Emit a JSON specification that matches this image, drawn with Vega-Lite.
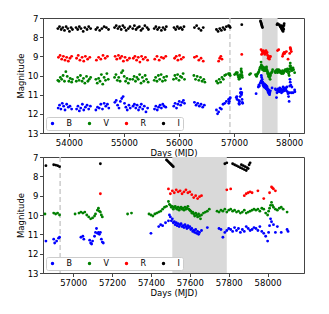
{
"$schema": "https://vega.github.io/schema/vega-lite/v6.json",
"padding": {"left": 15, "top": 13, "right": 0, "bottom": 0},
"config": {
 "font": "DejaVu Sans",
 "view": {"stroke": "#444444", "strokeWidth": 1},
 "axis": {"labelFont": "DejaVu Sans", "titleFont": "DejaVu Sans", "labelFontSize": 8.5, "titleFontSize": 8.5, "titleFontWeight": "normal", "labelColor": "#000000", "titleColor": "#000000", "grid": false, "tickColor": "#444444", "domainColor": "#444444", "tickSize": 3.5, "labelPadding": 1.5, "titlePadding": 2},
 "legend": {"labelFont": "DejaVu Sans"}
},
"datasets": {
 "d": [
{"t":53800,"m":7.55,"b":"I"},{"t":53830,"m":7.45,"b":"I"},{"t":53860,"m":7.6,"b":"I"},{"t":53890,"m":7.5,"b":"I"},{"t":53920,"m":7.65,"b":"I"},{"t":53950,"m":7.45,"b":"I"},{"t":53980,"m":7.55,"b":"I"},{"t":54010,"m":7.7,"b":"I"},{"t":54040,"m":7.5,"b":"I"},{"t":54065,"m":7.6,"b":"I"},
{"t":53810,"m":9.05,"b":"R"},{"t":53840,"m":8.95,"b":"R"},{"t":53870,"m":9.15,"b":"R"},{"t":53900,"m":9.0,"b":"R"},{"t":53930,"m":9.2,"b":"R"},{"t":53960,"m":9.05,"b":"R"},{"t":53990,"m":9.25,"b":"R"},{"t":54020,"m":9.1,"b":"R"},{"t":54050,"m":9.0,"b":"R"},
{"t":53800,"m":10.25,"b":"V"},{"t":53820,"m":10.3,"b":"V"},{"t":53845,"m":10.1,"b":"V"},{"t":53870,"m":10.2,"b":"V"},{"t":53895,"m":10.0,"b":"V"},{"t":53920,"m":10.3,"b":"V"},{"t":53945,"m":9.8,"b":"V"},{"t":53970,"m":10.05,"b":"V"},{"t":54000,"m":10.3,"b":"V"},{"t":54025,"m":10.15,"b":"V"},{"t":54050,"m":10.35,"b":"V"},{"t":54065,"m":10.2,"b":"V"},
{"t":53805,"m":11.7,"b":"B"},{"t":53830,"m":11.55,"b":"B"},{"t":53855,"m":11.75,"b":"B"},{"t":53880,"m":11.45,"b":"B"},{"t":53905,"m":11.6,"b":"B"},{"t":53930,"m":11.8,"b":"B"},{"t":53960,"m":11.5,"b":"B"},{"t":53990,"m":11.65,"b":"B"},{"t":54020,"m":11.6,"b":"B"},{"t":54050,"m":11.75,"b":"B"},
{"t":54130,"m":7.5,"b":"I"},{"t":54160,"m":7.6,"b":"I"},{"t":54190,"m":7.45,"b":"I"},{"t":54220,"m":7.55,"b":"I"},{"t":54260,"m":7.7,"b":"I"},{"t":54290,"m":7.5,"b":"I"},{"t":54330,"m":7.6,"b":"I"},{"t":54360,"m":7.45,"b":"I"},{"t":54395,"m":7.55,"b":"I"},
{"t":54140,"m":9.1,"b":"R"},{"t":54170,"m":8.95,"b":"R"},{"t":54200,"m":9.2,"b":"R"},{"t":54240,"m":9.05,"b":"R"},{"t":54270,"m":9.25,"b":"R"},{"t":54300,"m":9.0,"b":"R"},{"t":54340,"m":9.15,"b":"R"},{"t":54380,"m":9.05,"b":"R"},
{"t":54135,"m":10.3,"b":"V"},{"t":54160,"m":10.1,"b":"V"},{"t":54185,"m":10.25,"b":"V"},{"t":54210,"m":10.0,"b":"V"},{"t":54240,"m":10.3,"b":"V"},{"t":54265,"m":10.15,"b":"V"},{"t":54290,"m":10.4,"b":"V"},{"t":54320,"m":10.05,"b":"V"},{"t":54345,"m":10.3,"b":"V"},{"t":54370,"m":10.2,"b":"V"},{"t":54395,"m":10.1,"b":"V"},
{"t":54140,"m":11.75,"b":"B"},{"t":54165,"m":11.6,"b":"B"},{"t":54190,"m":11.85,"b":"B"},{"t":54215,"m":11.7,"b":"B"},{"t":54245,"m":11.5,"b":"B"},{"t":54270,"m":11.8,"b":"B"},{"t":54300,"m":11.65,"b":"B"},{"t":54330,"m":11.55,"b":"B"},{"t":54360,"m":11.75,"b":"B"},{"t":54390,"m":11.6,"b":"B"},
{"t":54490,"m":7.6,"b":"I"},{"t":54520,"m":7.5,"b":"I"},{"t":54560,"m":7.65,"b":"I"},{"t":54600,"m":7.55,"b":"I"},{"t":54640,"m":7.45,"b":"I"},{"t":54680,"m":7.5,"b":"I"},{"t":54720,"m":7.6,"b":"I"},
{"t":54500,"m":9.2,"b":"R"},{"t":54540,"m":9.05,"b":"R"},{"t":54580,"m":9.15,"b":"R"},{"t":54620,"m":8.95,"b":"R"},{"t":54660,"m":9.1,"b":"R"},{"t":54700,"m":9.0,"b":"R"},
{"t":54490,"m":10.2,"b":"V"},{"t":54515,"m":10.4,"b":"V"},{"t":54540,"m":10.15,"b":"V"},{"t":54565,"m":10.3,"b":"V"},{"t":54590,"m":9.95,"b":"V"},{"t":54615,"m":10.45,"b":"V"},{"t":54640,"m":10.1,"b":"V"},{"t":54665,"m":10.25,"b":"V"},{"t":54690,"m":9.9,"b":"V"},{"t":54715,"m":10.2,"b":"V"},
{"t":54490,"m":11.8,"b":"B"},{"t":54520,"m":11.65,"b":"B"},{"t":54550,"m":11.7,"b":"B"},{"t":54580,"m":11.5,"b":"B"},{"t":54610,"m":11.75,"b":"B"},{"t":54640,"m":11.45,"b":"B"},{"t":54670,"m":11.6,"b":"B"},{"t":54700,"m":11.5,"b":"B"},{"t":54725,"m":11.7,"b":"B"},
{"t":54830,"m":7.5,"b":"I"},{"t":54860,"m":7.4,"b":"I"},{"t":54890,"m":7.55,"b":"I"},{"t":54920,"m":7.45,"b":"I"},{"t":54950,"m":7.6,"b":"I"},{"t":54980,"m":7.4,"b":"I"},{"t":55010,"m":7.5,"b":"I"},{"t":55040,"m":7.65,"b":"I"},{"t":55080,"m":7.55,"b":"I"},{"t":55110,"m":7.45,"b":"I"},
{"t":54840,"m":9.0,"b":"R"},{"t":54870,"m":9.15,"b":"R"},{"t":54900,"m":8.95,"b":"R"},{"t":54930,"m":9.1,"b":"R"},{"t":54960,"m":9.0,"b":"R"},{"t":54990,"m":9.25,"b":"R"},{"t":55020,"m":9.05,"b":"R"},{"t":55060,"m":9.2,"b":"R"},{"t":55100,"m":9.1,"b":"R"},
{"t":54830,"m":10.1,"b":"V"},{"t":54855,"m":9.95,"b":"V"},{"t":54880,"m":10.25,"b":"V"},{"t":54905,"m":10.1,"b":"V"},{"t":54930,"m":10.3,"b":"V"},{"t":54955,"m":9.85,"b":"V"},{"t":54980,"m":9.75,"b":"V"},{"t":55005,"m":10.05,"b":"V"},{"t":55030,"m":10.3,"b":"V"},{"t":55055,"m":10.15,"b":"V"},{"t":55080,"m":10.4,"b":"V"},{"t":55110,"m":10.2,"b":"V"},
{"t":54835,"m":11.4,"b":"B"},{"t":54860,"m":11.3,"b":"B"},{"t":54885,"m":11.55,"b":"B"},{"t":54910,"m":11.7,"b":"B"},{"t":54935,"m":11.35,"b":"B"},{"t":54960,"m":11.2,"b":"B"},{"t":54985,"m":11.1,"b":"B"},{"t":55010,"m":11.45,"b":"B"},{"t":55035,"m":11.65,"b":"B"},{"t":55060,"m":11.8,"b":"B"},{"t":55090,"m":11.55,"b":"B"},{"t":55115,"m":11.7,"b":"B"},
{"t":55160,"m":7.55,"b":"I"},{"t":55190,"m":7.4,"b":"I"},{"t":55220,"m":7.6,"b":"I"},{"t":55250,"m":7.5,"b":"I"},{"t":55280,"m":7.45,"b":"I"},{"t":55310,"m":7.65,"b":"I"},{"t":55340,"m":7.55,"b":"I"},{"t":55380,"m":7.4,"b":"I"},{"t":55420,"m":7.5,"b":"I"},{"t":55445,"m":7.6,"b":"I"},
{"t":55170,"m":9.1,"b":"R"},{"t":55200,"m":9.0,"b":"R"},{"t":55230,"m":9.2,"b":"R"},{"t":55260,"m":9.05,"b":"R"},{"t":55290,"m":9.3,"b":"R"},{"t":55320,"m":9.0,"b":"R"},{"t":55350,"m":9.15,"b":"R"},{"t":55390,"m":9.05,"b":"R"},{"t":55430,"m":9.2,"b":"R"},
{"t":55160,"m":10.2,"b":"V"},{"t":55185,"m":10.05,"b":"V"},{"t":55210,"m":10.3,"b":"V"},{"t":55235,"m":10.1,"b":"V"},{"t":55260,"m":10.2,"b":"V"},{"t":55285,"m":9.95,"b":"V"},{"t":55310,"m":10.4,"b":"V"},{"t":55335,"m":10.1,"b":"V"},{"t":55360,"m":10.3,"b":"V"},{"t":55385,"m":10.0,"b":"V"},{"t":55410,"m":10.2,"b":"V"},{"t":55440,"m":10.35,"b":"V"},
{"t":55165,"m":11.6,"b":"B"},{"t":55190,"m":11.5,"b":"B"},{"t":55215,"m":11.7,"b":"B"},{"t":55240,"m":11.55,"b":"B"},{"t":55265,"m":11.8,"b":"B"},{"t":55290,"m":11.65,"b":"B"},{"t":55315,"m":11.5,"b":"B"},{"t":55340,"m":11.75,"b":"B"},{"t":55370,"m":11.6,"b":"B"},{"t":55400,"m":11.9,"b":"B"},{"t":55430,"m":11.7,"b":"B"},
{"t":55550,"m":7.55,"b":"I"},{"t":55580,"m":7.45,"b":"I"},{"t":55610,"m":7.6,"b":"I"},{"t":55640,"m":7.5,"b":"I"},{"t":55680,"m":7.65,"b":"I"},{"t":55710,"m":7.5,"b":"I"},{"t":55745,"m":7.6,"b":"I"},{"t":55770,"m":7.45,"b":"I"},
{"t":55560,"m":9.15,"b":"R"},{"t":55600,"m":9.0,"b":"R"},{"t":55640,"m":9.2,"b":"R"},{"t":55680,"m":9.05,"b":"R"},{"t":55720,"m":9.1,"b":"R"},{"t":55760,"m":9.0,"b":"R"},
{"t":55550,"m":10.25,"b":"V"},{"t":55575,"m":10.1,"b":"V"},{"t":55600,"m":10.3,"b":"V"},{"t":55625,"m":10.0,"b":"V"},{"t":55650,"m":10.2,"b":"V"},{"t":55675,"m":9.95,"b":"V"},{"t":55700,"m":10.3,"b":"V"},{"t":55725,"m":10.1,"b":"V"},{"t":55750,"m":10.25,"b":"V"},{"t":55775,"m":10.05,"b":"V"},
{"t":55555,"m":11.75,"b":"B"},{"t":55580,"m":11.6,"b":"B"},{"t":55605,"m":11.8,"b":"B"},{"t":55630,"m":11.65,"b":"B"},{"t":55655,"m":11.55,"b":"B"},{"t":55680,"m":11.7,"b":"B"},{"t":55705,"m":11.5,"b":"B"},{"t":55730,"m":11.6,"b":"B"},{"t":55760,"m":11.65,"b":"B"},
{"t":55910,"m":7.5,"b":"I"},{"t":55940,"m":7.6,"b":"I"},{"t":55970,"m":7.45,"b":"I"},{"t":56000,"m":7.55,"b":"I"},{"t":56030,"m":7.5,"b":"I"},{"t":56060,"m":7.6,"b":"I"},{"t":56090,"m":7.45,"b":"I"},
{"t":55920,"m":9.1,"b":"R"},{"t":55950,"m":9.0,"b":"R"},{"t":55980,"m":9.2,"b":"R"},{"t":56010,"m":8.95,"b":"R"},{"t":56040,"m":9.15,"b":"R"},{"t":56080,"m":9.05,"b":"R"},
{"t":55900,"m":10.2,"b":"V"},{"t":55925,"m":10.0,"b":"V"},{"t":55950,"m":10.15,"b":"V"},{"t":55975,"m":9.95,"b":"V"},{"t":56000,"m":10.25,"b":"V"},{"t":56025,"m":10.05,"b":"V"},{"t":56050,"m":10.1,"b":"V"},{"t":56075,"m":9.9,"b":"V"},{"t":56100,"m":10.2,"b":"V"},
{"t":55905,"m":11.6,"b":"B"},{"t":55930,"m":11.45,"b":"B"},{"t":55955,"m":11.7,"b":"B"},{"t":55980,"m":11.5,"b":"B"},{"t":56005,"m":11.35,"b":"B"},{"t":56030,"m":11.55,"b":"B"},{"t":56055,"m":11.4,"b":"B"},{"t":56080,"m":11.3,"b":"B"},{"t":56100,"m":11.45,"b":"B"},
{"t":56280,"m":7.5,"b":"I"},{"t":56320,"m":7.4,"b":"I"},{"t":56360,"m":7.55,"b":"I"},{"t":56400,"m":7.65,"b":"I"},{"t":56440,"m":7.5,"b":"I"},
{"t":56280,"m":9.05,"b":"R"},{"t":56320,"m":9.0,"b":"R"},{"t":56360,"m":9.2,"b":"R"},{"t":56400,"m":9.1,"b":"R"},{"t":56440,"m":9.25,"b":"R"},
{"t":56270,"m":10.0,"b":"V"},{"t":56300,"m":10.2,"b":"V"},{"t":56330,"m":10.05,"b":"V"},{"t":56360,"m":10.25,"b":"V"},{"t":56390,"m":10.1,"b":"V"},{"t":56420,"m":10.3,"b":"V"},{"t":56450,"m":10.2,"b":"V"},{"t":56470,"m":10.35,"b":"V"},
{"t":56280,"m":11.4,"b":"B"},{"t":56310,"m":11.55,"b":"B"},{"t":56340,"m":11.45,"b":"B"},{"t":56370,"m":11.6,"b":"B"},{"t":56400,"m":11.5,"b":"B"},{"t":56430,"m":11.65,"b":"B"},{"t":56460,"m":11.55,"b":"B"},
{"t":56680,"m":7.6,"b":"I"},{"t":56710,"m":7.7,"b":"I"},{"t":56740,"m":7.55,"b":"I"},{"t":56770,"m":7.65,"b":"I"},{"t":56800,"m":7.5,"b":"I"},{"t":56830,"m":7.6,"b":"I"},{"t":56860,"m":7.45,"b":"I"},{"t":56900,"m":7.4,"b":"I"},{"t":56910,"m":7.42,"b":"I"},{"t":56920,"m":7.45,"b":"I"},{"t":56930,"m":7.5,"b":"I"},
{"t":56720,"m":9.25,"b":"R"},{"t":56740,"m":9.1,"b":"R"},{"t":56760,"m":9.0,"b":"R"},{"t":56780,"m":9.15,"b":"R"},
{"t":56680,"m":10.3,"b":"V"},{"t":56705,"m":10.4,"b":"V"},{"t":56730,"m":10.2,"b":"V"},{"t":56755,"m":10.35,"b":"V"},{"t":56780,"m":10.1,"b":"V"},{"t":56805,"m":10.2,"b":"V"},{"t":56830,"m":10.0,"b":"V"},{"t":56855,"m":9.95,"b":"V"},{"t":56900,"m":9.9,"b":"V"},{"t":56910,"m":9.95,"b":"V"},{"t":56920,"m":9.9,"b":"V"},{"t":56930,"m":10.0,"b":"V"},
{"t":56680,"m":11.8,"b":"B"},{"t":56700,"m":12.0,"b":"B"},{"t":56720,"m":11.9,"b":"B"},{"t":56745,"m":11.7,"b":"B"},{"t":56770,"m":11.75,"b":"B"},{"t":56800,"m":11.5,"b":"B"},{"t":56830,"m":11.45,"b":"B"},{"t":56860,"m":11.35,"b":"B"},{"t":56900,"m":11.25,"b":"B"},{"t":56905,"m":11.45,"b":"B"},{"t":56915,"m":11.35,"b":"B"},{"t":56925,"m":11.2,"b":"B"},{"t":56930,"m":11.15,"b":"B"},
{"t":57010,"m":9.95,"b":"V"},{"t":57030,"m":9.9,"b":"V"},{"t":57040,"m":9.85,"b":"V"},{"t":57050,"m":9.9,"b":"V"},{"t":57060,"m":9.85,"b":"V"},{"t":57070,"m":10.0,"b":"V"},{"t":57080,"m":10.1,"b":"V"},{"t":57090,"m":10.2,"b":"V"},{"t":57100,"m":10.15,"b":"V"},{"t":57110,"m":10.05,"b":"V"},{"t":57115,"m":9.95,"b":"V"},{"t":57125,"m":9.75,"b":"V"},{"t":57130,"m":9.65,"b":"V"},{"t":57135,"m":9.8,"b":"V"},{"t":57140,"m":9.85,"b":"V"},{"t":57145,"m":10.0,"b":"V"},{"t":57150,"m":10.1,"b":"V"},
{"t":57040,"m":11.15,"b":"B"},{"t":57050,"m":11.1,"b":"B"},{"t":57055,"m":11.25,"b":"B"},{"t":57085,"m":11.3,"b":"B"},{"t":57090,"m":11.45,"b":"B"},{"t":57095,"m":11.5,"b":"B"},{"t":57100,"m":11.35,"b":"B"},{"t":57110,"m":11.1,"b":"B"},{"t":57115,"m":10.9,"b":"B"},{"t":57120,"m":10.7,"b":"B"},{"t":57125,"m":10.95,"b":"B"},{"t":57130,"m":10.9,"b":"B"},{"t":57135,"m":11.0,"b":"B"},{"t":57140,"m":10.9,"b":"B"},{"t":57145,"m":11.25,"b":"B"},{"t":57150,"m":11.4,"b":"B"},{"t":57155,"m":11.45,"b":"B"},
{"t":57140,"m":7.35,"b":"I"},{"t":57140,"m":8.9,"b":"R"},
{"t":57280,"m":9.95,"b":"V"},{"t":57300,"m":9.9,"b":"V"},
{"t":57390,"m":9.95,"b":"V"},{"t":57400,"m":10.0,"b":"V"},{"t":57410,"m":10.05,"b":"V"},{"t":57420,"m":9.95,"b":"V"},{"t":57430,"m":9.9,"b":"V"},{"t":57440,"m":9.85,"b":"V"},{"t":57450,"m":9.8,"b":"V"},{"t":57460,"m":9.7,"b":"V"},{"t":57470,"m":9.6,"b":"V"},{"t":57480,"m":9.55,"b":"V"},{"t":57490,"m":9.3,"b":"V"},{"t":57495,"m":9.45,"b":"V"},{"t":57500,"m":9.5,"b":"V"},{"t":57505,"m":9.6,"b":"V"},{"t":57510,"m":9.55,"b":"V"},{"t":57515,"m":9.7,"b":"V"},{"t":57520,"m":9.6,"b":"V"},{"t":57525,"m":9.55,"b":"V"},{"t":57530,"m":9.65,"b":"V"},{"t":57535,"m":9.7,"b":"V"},{"t":57540,"m":9.6,"b":"V"},{"t":57545,"m":9.75,"b":"V"},{"t":57550,"m":9.65,"b":"V"},{"t":57555,"m":9.6,"b":"V"},{"t":57560,"m":9.7,"b":"V"},{"t":57565,"m":9.65,"b":"V"},{"t":57570,"m":9.75,"b":"V"},{"t":57575,"m":9.6,"b":"V"},{"t":57580,"m":9.7,"b":"V"},{"t":57585,"m":9.65,"b":"V"},{"t":57590,"m":9.55,"b":"V"},{"t":57595,"m":9.7,"b":"V"},{"t":57600,"m":9.75,"b":"V"},{"t":57605,"m":9.8,"b":"V"},{"t":57610,"m":9.9,"b":"V"},{"t":57615,"m":9.85,"b":"V"},{"t":57620,"m":9.95,"b":"V"},{"t":57625,"m":10.05,"b":"V"},{"t":57630,"m":9.9,"b":"V"},{"t":57635,"m":10.0,"b":"V"},{"t":57640,"m":10.1,"b":"V"},{"t":57645,"m":9.95,"b":"V"},{"t":57650,"m":10.05,"b":"V"},{"t":57655,"m":10.2,"b":"V"},{"t":57660,"m":10.0,"b":"V"},{"t":57670,"m":9.9,"b":"V"},{"t":57680,"m":9.85,"b":"V"},{"t":57690,"m":9.8,"b":"V"},{"t":57700,"m":9.7,"b":"V"},
{"t":57400,"m":10.95,"b":"B"},{"t":57440,"m":10.6,"b":"B"},{"t":57450,"m":10.5,"b":"B"},{"t":57460,"m":10.55,"b":"B"},{"t":57475,"m":10.4,"b":"B"},{"t":57490,"m":10.3,"b":"B"},{"t":57495,"m":10.0,"b":"B"},{"t":57500,"m":10.1,"b":"B"},{"t":57505,"m":10.3,"b":"B"},{"t":57510,"m":10.2,"b":"B"},{"t":57515,"m":10.4,"b":"B"},{"t":57520,"m":10.35,"b":"B"},{"t":57525,"m":10.5,"b":"B"},{"t":57530,"m":10.4,"b":"B"},{"t":57535,"m":10.55,"b":"B"},{"t":57540,"m":10.45,"b":"B"},{"t":57545,"m":10.6,"b":"B"},{"t":57550,"m":10.5,"b":"B"},{"t":57555,"m":10.45,"b":"B"},{"t":57560,"m":10.6,"b":"B"},{"t":57565,"m":10.55,"b":"B"},{"t":57570,"m":10.65,"b":"B"},{"t":57575,"m":10.5,"b":"B"},{"t":57580,"m":10.6,"b":"B"},{"t":57585,"m":10.7,"b":"B"},{"t":57590,"m":10.55,"b":"B"},{"t":57595,"m":10.65,"b":"B"},{"t":57600,"m":10.6,"b":"B"},{"t":57605,"m":10.75,"b":"B"},{"t":57610,"m":10.7,"b":"B"},{"t":57615,"m":10.85,"b":"B"},{"t":57620,"m":10.8,"b":"B"},{"t":57625,"m":10.9,"b":"B"},{"t":57630,"m":10.75,"b":"B"},{"t":57635,"m":10.95,"b":"B"},{"t":57640,"m":10.85,"b":"B"},{"t":57645,"m":11.0,"b":"B"},{"t":57650,"m":10.9,"b":"B"},{"t":57660,"m":10.8,"b":"B"},{"t":57690,"m":10.65,"b":"B"},
{"t":57490,"m":8.65,"b":"R"},{"t":57500,"m":8.9,"b":"R"},{"t":57510,"m":8.75,"b":"R"},{"t":57520,"m":8.85,"b":"R"},{"t":57530,"m":8.7,"b":"R"},{"t":57540,"m":8.8,"b":"R"},{"t":57550,"m":8.75,"b":"R"},{"t":57560,"m":8.9,"b":"R"},{"t":57570,"m":8.8,"b":"R"},{"t":57580,"m":8.7,"b":"R"},{"t":57590,"m":8.85,"b":"R"},{"t":57600,"m":8.8,"b":"R"},{"t":57610,"m":8.95,"b":"R"},{"t":57620,"m":9.1,"b":"R"},{"t":57630,"m":9.0,"b":"R"},{"t":57640,"m":9.15,"b":"R"},{"t":57650,"m":9.05,"b":"R"},{"t":57660,"m":9.0,"b":"R"},
{"t":57480,"m":7.15,"b":"I"},{"t":57485,"m":7.2,"b":"I"},{"t":57490,"m":7.25,"b":"I"},{"t":57495,"m":7.3,"b":"I"},{"t":57500,"m":7.35,"b":"I"},{"t":57505,"m":7.4,"b":"I"},{"t":57510,"m":7.45,"b":"I"},{"t":57515,"m":7.5,"b":"I"},
{"t":57740,"m":9.8,"b":"V"},{"t":57750,"m":9.85,"b":"V"},{"t":57760,"m":9.75,"b":"V"},{"t":57770,"m":9.8,"b":"V"},{"t":57780,"m":9.7,"b":"V"},{"t":57790,"m":9.85,"b":"V"},{"t":57800,"m":9.75,"b":"V"},{"t":57810,"m":9.7,"b":"V"},{"t":57820,"m":9.8,"b":"V"},{"t":57830,"m":9.75,"b":"V"},{"t":57840,"m":9.85,"b":"V"},{"t":57850,"m":9.8,"b":"V"},{"t":57860,"m":9.9,"b":"V"},{"t":57870,"m":9.85,"b":"V"},{"t":57880,"m":9.75,"b":"V"},{"t":57890,"m":9.9,"b":"V"},{"t":57900,"m":9.85,"b":"V"},{"t":57910,"m":9.8,"b":"V"},{"t":57920,"m":9.75,"b":"V"},{"t":57930,"m":9.7,"b":"V"},{"t":57940,"m":9.75,"b":"V"},{"t":57950,"m":9.7,"b":"V"},{"t":57960,"m":9.8,"b":"V"},{"t":57970,"m":9.65,"b":"V"},{"t":57980,"m":9.7,"b":"V"},{"t":57990,"m":9.9,"b":"V"},{"t":58000,"m":10.0,"b":"V"},{"t":58005,"m":9.8,"b":"V"},{"t":58010,"m":9.65,"b":"V"},{"t":58015,"m":9.5,"b":"V"},{"t":58020,"m":9.35,"b":"V"},{"t":58025,"m":9.5,"b":"V"},{"t":58030,"m":9.6,"b":"V"},{"t":58040,"m":9.7,"b":"V"},{"t":58050,"m":9.75,"b":"V"},{"t":58060,"m":9.65,"b":"V"},{"t":58070,"m":9.6,"b":"V"},{"t":58080,"m":9.7,"b":"V"},{"t":58100,"m":9.85,"b":"V"},
{"t":57750,"m":10.7,"b":"B"},{"t":57760,"m":10.75,"b":"B"},{"t":57770,"m":11.15,"b":"B"},{"t":57780,"m":10.9,"b":"B"},{"t":57790,"m":10.8,"b":"B"},{"t":57800,"m":10.7,"b":"B"},{"t":57810,"m":10.75,"b":"B"},{"t":57820,"m":10.85,"b":"B"},{"t":57830,"m":10.65,"b":"B"},{"t":57840,"m":10.8,"b":"B"},{"t":57850,"m":10.7,"b":"B"},{"t":57860,"m":10.9,"b":"B"},{"t":57870,"m":10.75,"b":"B"},{"t":57880,"m":10.85,"b":"B"},{"t":57890,"m":10.6,"b":"B"},{"t":57900,"m":10.7,"b":"B"},{"t":57910,"m":10.8,"b":"B"},{"t":57920,"m":10.75,"b":"B"},{"t":57930,"m":10.65,"b":"B"},{"t":57940,"m":10.7,"b":"B"},{"t":57950,"m":10.8,"b":"B"},{"t":57960,"m":10.6,"b":"B"},{"t":57970,"m":10.85,"b":"B"},{"t":57980,"m":10.95,"b":"B"},{"t":57990,"m":11.1,"b":"B"},{"t":58000,"m":11.35,"b":"B"},{"t":58005,"m":10.9,"b":"B"},{"t":58010,"m":10.55,"b":"B"},{"t":58015,"m":10.2,"b":"B"},{"t":58020,"m":10.35,"b":"B"},{"t":58030,"m":10.5,"b":"B"},{"t":58040,"m":10.9,"b":"B"},{"t":58050,"m":10.6,"b":"B"},{"t":58070,"m":10.9,"b":"B"},{"t":58100,"m":10.75,"b":"B"},{"t":58105,"m":10.85,"b":"B"},
{"t":57790,"m":8.7,"b":"R"},{"t":57810,"m":8.65,"b":"R"},{"t":57880,"m":9.0,"b":"R"},{"t":57890,"m":8.9,"b":"R"},{"t":57900,"m":8.85,"b":"R"},{"t":57910,"m":8.8,"b":"R"},{"t":57920,"m":8.85,"b":"R"},{"t":57950,"m":8.75,"b":"R"},{"t":57980,"m":9.15,"b":"R"},{"t":58010,"m":8.85,"b":"R"},{"t":58020,"m":8.55,"b":"R"},{"t":58025,"m":8.6,"b":"R"},{"t":58030,"m":8.65,"b":"R"},{"t":58040,"m":8.75,"b":"R"},
{"t":57780,"m":7.35,"b":"I"},{"t":57790,"m":7.3,"b":"I"},{"t":57820,"m":7.35,"b":"I"},{"t":57830,"m":7.4,"b":"I"},{"t":57840,"m":7.45,"b":"I"},{"t":57850,"m":7.5,"b":"I"},{"t":57860,"m":7.55,"b":"I"},{"t":57865,"m":7.4,"b":"I"},{"t":57870,"m":7.6,"b":"I"},{"t":57875,"m":7.45,"b":"I"},{"t":57880,"m":7.65,"b":"I"},{"t":57885,"m":7.5,"b":"I"},{"t":57890,"m":7.7,"b":"I"},{"t":57895,"m":7.55,"b":"I"},{"t":57900,"m":7.6,"b":"I"},{"t":57905,"m":7.4,"b":"I"},{"t":57910,"m":7.3,"b":"I"}
 ]
},
"vconcat": [
 {
  "width": 261, "height": 115,
  "layer": [
   {"data": {"values": [{"t": 57510, "t2": 57790}]}, "mark": {"type": "rect", "color": "#d9d9d9"},
    "encoding": {"x": {"field": "t", "type": "quantitative", "title": "Days (MJD)", "scale": {"domain": [53530, 58270], "nice": false, "zero": false}, "axis": {"values": [54000, 55000, 56000, 57000, 58000], "format": "d"}}, "x2": {"field": "t2"}}},
   {"data": {"values": [{"t": 56925}]}, "mark": {"type": "rule", "color": "#cccccc", "strokeDash": [5, 3], "strokeWidth": 1.5},
    "encoding": {"x": {"field": "t", "type": "quantitative", "title": "Days (MJD)"}}},
   {"data": {"name": "d"}, "mark": {"type": "point", "filled": true, "size": 8, "opacity": 1, "clip": true},
    "encoding": {
     "x": {"field": "t", "type": "quantitative", "title": "Days (MJD)"},
     "y": {"field": "m", "type": "quantitative", "title": "Magnitude", "scale": {"domain": [7, 13], "reverse": true, "nice": false, "zero": false}, "axis": {"values": [7, 8, 9, 10, 11, 12, 13]}},
     "color": {"field": "b", "type": "nominal", "scale": {"domain": ["B", "V", "R", "I"], "range": ["#0000ff", "#008000", "#ff0000", "#000000"]},
      "legend": {"title": null, "orient": "bottom-left", "direction": "horizontal", "columns": 4, "offset": 3, "strokeColor": "#cccccc", "fillColor": "#ffffff", "padding": 2.5, "symbolSize": 12, "symbolType": "circle", "labelFontSize": 8, "labelOffset": 10, "columnPadding": 13, "cornerRadius": 2}}
    }}
  ]
 },
 {
  "width": 261, "height": 116,
  "layer": [
   {"data": {"values": [{"t": 57510, "t2": 57790}]}, "mark": {"type": "rect", "color": "#d9d9d9"},
    "encoding": {"x": {"field": "t", "type": "quantitative", "title": "Days (MJD)", "scale": {"domain": [56845, 58187], "nice": false, "zero": false}, "axis": {"values": [57000, 57200, 57400, 57600, 57800, 58000], "format": "d"}}, "x2": {"field": "t2"}}},
   {"data": {"values": [{"t": 56933}]}, "mark": {"type": "rule", "color": "#cccccc", "strokeDash": [5, 3], "strokeWidth": 1.5},
    "encoding": {"x": {"field": "t", "type": "quantitative", "title": "Days (MJD)"}}},
   {"data": {"name": "d"}, "mark": {"type": "point", "filled": true, "size": 8, "opacity": 1, "clip": true},
    "encoding": {
     "x": {"field": "t", "type": "quantitative", "title": "Days (MJD)"},
     "y": {"field": "m", "type": "quantitative", "title": "Magnitude", "scale": {"domain": [7, 13], "reverse": true, "nice": false, "zero": false}, "axis": {"values": [7, 8, 9, 10, 11, 12, 13]}},
     "color": {"field": "b", "type": "nominal", "scale": {"domain": ["B", "V", "R", "I"], "range": ["#0000ff", "#008000", "#ff0000", "#000000"]},
      "legend": {"title": null, "orient": "bottom-left", "direction": "horizontal", "columns": 4, "offset": 3, "strokeColor": "#cccccc", "fillColor": "#ffffff", "padding": 2.5, "symbolSize": 12, "symbolType": "circle", "labelFontSize": 8, "labelOffset": 10, "columnPadding": 13, "cornerRadius": 2}}
    }}
  ]
 }
],
"spacing": 24,
"bounds": "flush",
"resolve": {"legend": {"color": "independent"}, "scale": {"x": "independent"}}
}
